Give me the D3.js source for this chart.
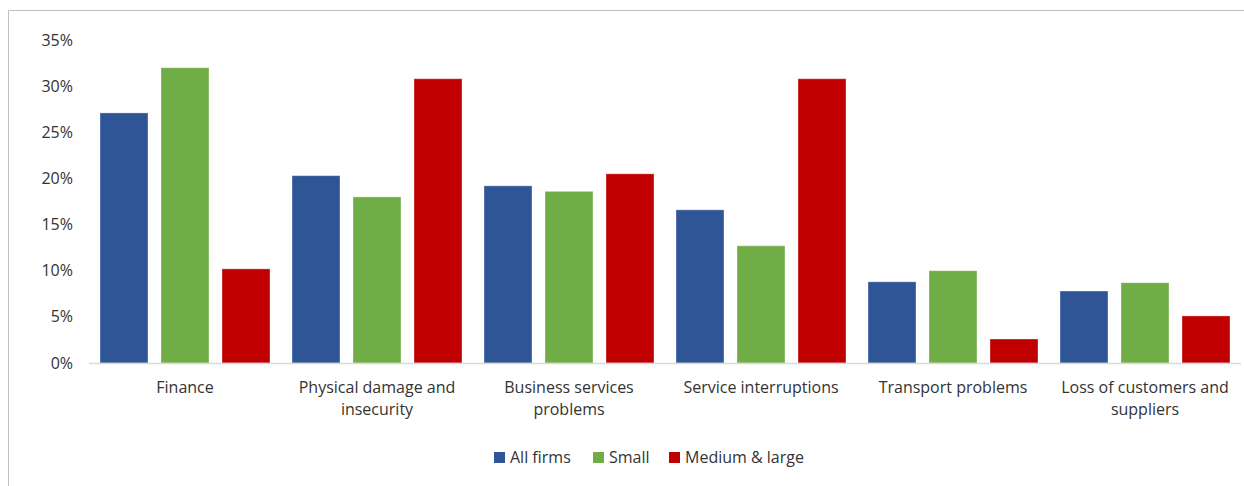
<!DOCTYPE html>
<html>
<head>
<meta charset="utf-8">
<script src="https://cdn.jsdelivr.net/npm/d3@7/dist/d3.min.js"></script>
<style>
  html, body { margin: 0; padding: 0; background: #fff; }
  svg { display: block; }
  text { font-family: "Open Sans", Lato, sans-serif; fill: #333333; }
</style>
</head>
<body>
<svg id="chart" width="1244" height="486"></svg>
<script>
// Obstacles reported by firms, share by firm size
const categories = [
  ["Finance"],
  ["Physical damage and", "insecurity"],
  ["Business services", "problems"],
  ["Service interruptions"],
  ["Transport problems"],
  ["Loss of customers and", "suppliers"]
];
const seriesNames = ["All firms", "Small", "Medium & large"];
const seriesColors = ["#2f5597", "#70ad47", "#c00000"];
const allFirms = [27.1, 20.3, 19.2, 16.6, 8.8, 7.8];
const small = [32.0, 18.0, 18.6, 12.7, 10.0, 8.7];
const mediumLarge = [10.2, 30.8, 20.5, 30.8, 2.6, 5.1];
const yTicks = [0, 5, 10, 15, 20, 25, 30, 35];

const seriesValues = [allFirms, small, mediumLarge];
const svg = d3.select("#chart");
const fontSize = 16;
const fontFamily = "'Open Sans', Lato, sans-serif";
const textColor = "#333333";

// Outer frame (top and left edges)
svg.append("path")
  .attr("d", "M8.5,486 V10.5 H1244")
  .attr("fill", "none")
  .attr("stroke", "#bfbfbf")
  .attr("stroke-width", 1);

const x0 = d3.scaleBand()
  .domain(d3.range(categories.length))
  .range([89, 1241])
  .paddingInner(0)
  .paddingOuter(0);

const groupPad = 11;
const x1 = d3.scaleBand()
  .domain(d3.range(seriesNames.length))
  .range([groupPad, x0.bandwidth() - groupPad])
  .paddingInner(0.213)
  .paddingOuter(0);

const y = d3.scaleLinear().domain([0, 35]).range([363, 40]);

// Y axis labels
const yAxis = d3.axisLeft(y)
  .tickValues(yTicks)
  .tickFormat(d => d + "%")
  .tickSize(0)
  .tickPadding(0);
const yg = svg.append("g")
  .attr("transform", "translate(73,0)")
  .call(yAxis);
yg.select(".domain").remove();
yg.selectAll("text")
  .attr("font-family", fontFamily)
  .attr("font-size", fontSize)
  .attr("fill", textColor);

// Bars
const groups = svg.append("g").selectAll("g")
  .data(categories)
  .join("g")
  .attr("transform", (d, i) => `translate(${x0(i)},0)`);

groups.selectAll("rect")
  .data((d, i) => seriesValues.map((vals, s) => ({ s, v: vals[i] })))
  .join("rect")
  .attr("x", d => x1(d.s))
  .attr("width", x1.bandwidth())
  .attr("y", d => y(d.v))
  .attr("height", d => y(0) - y(d.v))
  .attr("fill", d => seriesColors[d.s])
  .attr("stroke", "#ffffff")
  .attr("stroke-opacity", 0.35)
  .attr("stroke-width", 1);

// Baseline
svg.append("line")
  .attr("x1", x0.range()[0])
  .attr("x2", x0.range()[1])
  .attr("y1", y(0) + 0.5)
  .attr("y2", y(0) + 0.5)
  .attr("stroke", "#d9d9d9")
  .attr("stroke-width", 1.5);

// Category labels
const labels = svg.append("g").selectAll("text")
  .data(categories)
  .join("text")
  .attr("x", (d, i) => x0(i) + x0.bandwidth() / 2)
  .attr("y", 393)
  .attr("text-anchor", "middle")
  .attr("font-size", fontSize);
labels.selectAll("tspan")
  .data(d => d)
  .join("tspan")
  .attr("x", function () { return this.parentNode.getAttribute("x"); })
  .attr("dy", (d, i) => i === 0 ? 0 : 22)
  .text(d => d);

// Legend
const legendX = [494, 593, 669];
const legend = svg.append("g").selectAll("g")
  .data(seriesNames)
  .join("g")
  .attr("transform", (d, i) => `translate(${legendX[i]},452)`);
legend.append("rect")
  .attr("width", 11)
  .attr("height", 11)
  .attr("fill", (d, i) => seriesColors[i]);
legend.append("text")
  .attr("x", 16)
  .attr("y", 11)
  .attr("font-size", fontSize)
  .text(d => d);
</script>
</body>
</html>
